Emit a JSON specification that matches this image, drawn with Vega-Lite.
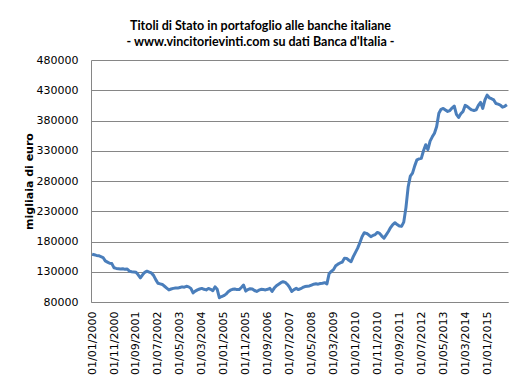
{
"$schema": "https://vega.github.io/schema/vega-lite/v6.json",
"width": 417, "height": 242,
"autosize": {"type": "none"},
"padding": {"left": 91, "top": 60, "right": 14, "bottom": 84},
"background": "white",
"title": {"text": ["Titoli di Stato in portafoglio  alle  banche  italiane", "- www.vincitorievinti.com  su dati Banca  d'Italia -"], "anchor": "middle", "dx": -39, "font": "Lato", "fontSize": 12.5, "fontWeight": "bold", "color": "black", "lineHeight": 16, "offset": 6},
"data": {"values": [
{"d":"01/01/2000","v":159000},{"d":"01/02/2000","v":158000},{"d":"01/03/2000","v":157000},{"d":"01/04/2000","v":156500},{"d":"01/05/2000","v":155000},{"d":"01/06/2000","v":153500},{"d":"01/07/2000","v":148000},{"d":"01/08/2000","v":146000},{"d":"01/09/2000","v":144000},{"d":"01/10/2000","v":143500},{"d":"01/11/2000","v":136500},{"d":"01/12/2000","v":135500},
{"d":"01/01/2001","v":135000},{"d":"01/02/2001","v":134500},{"d":"01/03/2001","v":135000},{"d":"01/04/2001","v":134000},{"d":"01/05/2001","v":134500},{"d":"01/06/2001","v":131000},{"d":"01/07/2001","v":130000},{"d":"01/08/2001","v":129500},{"d":"01/09/2001","v":129000},{"d":"01/10/2001","v":125000},{"d":"01/11/2001","v":120000},{"d":"01/12/2001","v":125000},
{"d":"01/01/2002","v":129000},{"d":"01/02/2002","v":131000},{"d":"01/03/2002","v":129500},{"d":"01/04/2002","v":128000},{"d":"01/05/2002","v":124000},{"d":"01/06/2002","v":117000},{"d":"01/07/2002","v":111000},{"d":"01/08/2002","v":110000},{"d":"01/09/2002","v":109000},{"d":"01/10/2002","v":106000},{"d":"01/11/2002","v":103000},{"d":"01/12/2002","v":100000},
{"d":"01/01/2003","v":101500},{"d":"01/02/2003","v":102500},{"d":"01/03/2003","v":103000},{"d":"01/04/2003","v":103000},{"d":"01/05/2003","v":104000},{"d":"01/06/2003","v":105000},{"d":"01/07/2003","v":104500},{"d":"01/08/2003","v":106000},{"d":"01/09/2003","v":105000},{"d":"01/10/2003","v":102500},{"d":"01/11/2003","v":95000},{"d":"01/12/2003","v":98000},
{"d":"01/01/2004","v":100000},{"d":"01/02/2004","v":101500},{"d":"01/03/2004","v":102500},{"d":"01/04/2004","v":101000},{"d":"01/05/2004","v":100000},{"d":"01/06/2004","v":102500},{"d":"01/07/2004","v":101000},{"d":"01/08/2004","v":98700},{"d":"01/09/2004","v":105000},{"d":"01/10/2004","v":101000},{"d":"01/11/2004","v":87000},{"d":"01/12/2004","v":89000},
{"d":"01/01/2005","v":90500},{"d":"01/02/2005","v":93000},{"d":"01/03/2005","v":97000},{"d":"01/04/2005","v":99500},{"d":"01/05/2005","v":101000},{"d":"01/06/2005","v":101500},{"d":"01/07/2005","v":100500},{"d":"01/08/2005","v":100500},{"d":"01/09/2005","v":104000},{"d":"01/10/2005","v":108000},{"d":"01/11/2005","v":98000},{"d":"01/12/2005","v":100500},
{"d":"01/01/2006","v":102000},{"d":"01/02/2006","v":101500},{"d":"01/03/2006","v":99000},{"d":"01/04/2006","v":97500},{"d":"01/05/2006","v":99500},{"d":"01/06/2006","v":101000},{"d":"01/07/2006","v":100500},{"d":"01/08/2006","v":100000},{"d":"01/09/2006","v":101000},{"d":"01/10/2006","v":102500},{"d":"01/11/2006","v":97500},{"d":"01/12/2006","v":103000},
{"d":"01/01/2007","v":107000},{"d":"01/02/2007","v":109500},{"d":"01/03/2007","v":112000},{"d":"01/04/2007","v":113500},{"d":"01/05/2007","v":112500},{"d":"01/06/2007","v":109000},{"d":"01/07/2007","v":104000},{"d":"01/08/2007","v":97500},{"d":"01/09/2007","v":100500},{"d":"01/10/2007","v":102500},{"d":"01/11/2007","v":100500},{"d":"01/12/2007","v":102000},
{"d":"01/01/2008","v":104000},{"d":"01/02/2008","v":105500},{"d":"01/03/2008","v":106000},{"d":"01/04/2008","v":106500},{"d":"01/05/2008","v":108000},{"d":"01/06/2008","v":109500},{"d":"01/07/2008","v":110000},{"d":"01/08/2008","v":109500},{"d":"01/09/2008","v":110500},{"d":"01/10/2008","v":111000},{"d":"01/11/2008","v":112000},{"d":"01/12/2008","v":110000},
{"d":"01/01/2009","v":127000},{"d":"01/02/2009","v":130500},{"d":"01/03/2009","v":133500},{"d":"01/04/2009","v":140000},{"d":"01/05/2009","v":142500},{"d":"01/06/2009","v":144500},{"d":"01/07/2009","v":146000},{"d":"01/08/2009","v":152500},{"d":"01/09/2009","v":152000},{"d":"01/10/2009","v":149000},{"d":"01/11/2009","v":146500},{"d":"01/12/2009","v":155000},
{"d":"01/01/2010","v":162000},{"d":"01/02/2010","v":169000},{"d":"01/03/2010","v":178000},{"d":"01/04/2010","v":188000},{"d":"01/05/2010","v":194500},{"d":"01/06/2010","v":193500},{"d":"01/07/2010","v":191000},{"d":"01/08/2010","v":188000},{"d":"01/09/2010","v":190000},{"d":"01/10/2010","v":191500},{"d":"01/11/2010","v":195000},{"d":"01/12/2010","v":193500},
{"d":"01/01/2011","v":189000},{"d":"01/02/2011","v":185500},{"d":"01/03/2011","v":191000},{"d":"01/04/2011","v":196500},{"d":"01/05/2011","v":203000},{"d":"01/06/2011","v":208000},{"d":"01/07/2011","v":211000},{"d":"01/08/2011","v":208000},{"d":"01/09/2011","v":205500},{"d":"01/10/2011","v":205000},{"d":"01/11/2011","v":212000},{"d":"01/12/2011","v":236000},
{"d":"01/01/2012","v":270000},{"d":"01/02/2012","v":288000},{"d":"01/03/2012","v":293000},{"d":"01/04/2012","v":305000},{"d":"01/05/2012","v":315000},{"d":"01/06/2012","v":316500},{"d":"01/07/2012","v":317500},{"d":"01/08/2012","v":330000},{"d":"01/09/2012","v":340000},{"d":"01/10/2012","v":332000},{"d":"01/11/2012","v":346000},{"d":"01/12/2012","v":353000},
{"d":"01/01/2013","v":359000},{"d":"01/02/2013","v":370000},{"d":"01/03/2013","v":392000},{"d":"01/04/2013","v":398500},{"d":"01/05/2013","v":400000},{"d":"01/06/2013","v":397500},{"d":"01/07/2013","v":395000},{"d":"01/08/2013","v":396500},{"d":"01/09/2013","v":400500},{"d":"01/10/2013","v":404000},{"d":"01/11/2013","v":390000},{"d":"01/12/2013","v":385000},
{"d":"01/01/2014","v":391000},{"d":"01/02/2014","v":395000},{"d":"01/03/2014","v":405000},{"d":"01/04/2014","v":403000},{"d":"01/05/2014","v":400000},{"d":"01/06/2014","v":397500},{"d":"01/07/2014","v":396500},{"d":"01/08/2014","v":397500},{"d":"01/09/2014","v":405000},{"d":"01/10/2014","v":410000},{"d":"01/11/2014","v":400000},{"d":"01/12/2014","v":414000},
{"d":"01/01/2015","v":422000},{"d":"01/02/2015","v":417500},{"d":"01/03/2015","v":416000},{"d":"01/04/2015","v":414000},{"d":"01/05/2015","v":408000},{"d":"01/06/2015","v":407000},{"d":"01/07/2015","v":405500},{"d":"01/08/2015","v":402000},{"d":"01/09/2015","v":403500},{"d":"01/10/2015","v":406000}
]},
"mark": {"type": "line", "color": "#4a7ebb", "strokeWidth": 3, "strokeJoin": "round"},
"encoding": {
"x": {"field": "d", "type": "ordinal", "sort": null, "scale": {"type": "point", "padding": 0.5},
 "axis": {"title": null, "values": ["01/01/2000","01/11/2000","01/09/2001","01/07/2002","01/05/2003","01/03/2004","01/01/2005","01/11/2005","01/09/2006","01/07/2007","01/05/2008","01/03/2009","01/01/2010","01/11/2010","01/09/2011","01/07/2012","01/05/2013","01/03/2014","01/01/2015"],
 "labelAngle": -90, "labelFont": "DejaVu Sans", "labelFontSize": 11, "labelColor": "black", "ticks": false, "labelPadding": 9, "domainColor": "#868686", "grid": false}},
"y": {"field": "v", "type": "quantitative", "scale": {"domain": [80000, 480000], "nice": false, "zero": false},
 "axis": {"values": [80000,130000,180000,230000,280000,330000,380000,430000,480000], "format": "d", "title": "migliaia di euro", "titleFont": "DejaVu Sans", "titleFontSize": 11, "titleFontWeight": "bold", "titleColor": "black", "labelFont": "DejaVu Sans", "labelFontSize": 11, "labelColor": "black", "ticks": false, "labelPadding": 13, "gridColor": "#868686", "domainColor": "#868686", "titlePadding": 2}}
},
"config": {"view": {"stroke": null}}
}
